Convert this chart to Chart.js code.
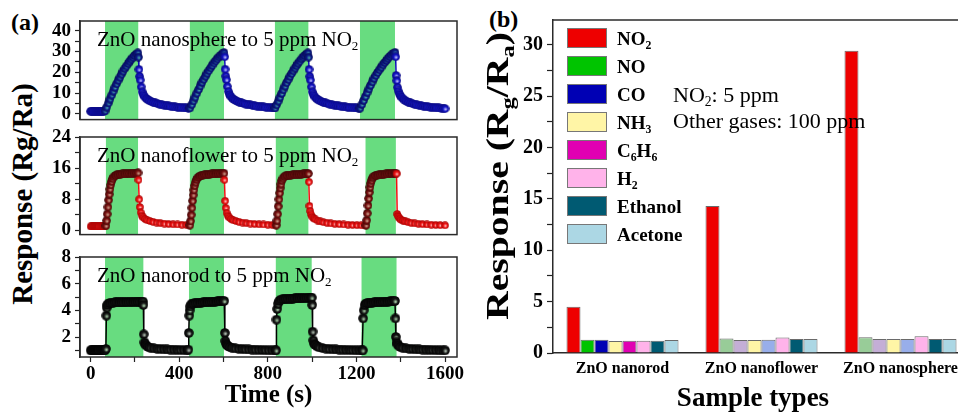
<!DOCTYPE html>
<html><head><meta charset="utf-8">
<script src="https://cdn.jsdelivr.net/npm/chart.js@4.4.1/dist/chart.umd.min.js"></script>
<style>
html,body{margin:0;padding:0;background:#fff;}
body{width:958px;height:412px;overflow:hidden;position:relative;font-family:"Liberation Serif","Times New Roman",serif;}
canvas{position:absolute;}
.lbl{position:absolute;font-weight:bold;color:#000;white-space:nowrap;}
</style></head><body>
<div class="lbl" style="left:11px;top:9px;font-size:24px;">(a)</div>
<div class="lbl" style="left:489px;top:6px;font-size:24px;">(b)</div>
<div class="lbl" style="left:-128px;top:177px;width:300px;height:34px;line-height:34px;text-align:center;font-size:29px;transform:rotate(-90deg);">Response (Rg/Ra)</div>
<canvas id="c1" width="470" height="135" style="left:0;top:0"></canvas>
<canvas id="c2" width="470" height="130" style="left:0;top:120px"></canvas>
<canvas id="c3" width="470" height="172" style="left:0;top:240px"></canvas>
<canvas id="c4" width="500" height="412" style="left:480px;top:0"></canvas>
<script>
// ---------------- DATA: panel (a) ----------------
const timeTicks = [0,200,400,600,800,1000,1200,1400,1600];
const timeLabels = [0,400,800,1200,1600];

// gas-on (NO2 exposure) intervals, s
const sphereOn = [[65,215],[448,602],[832,983],[1216,1374]];
const flowerOn = [[69,214],[448,602],[836,983],[1241,1378]];
const rodOn    = [[65,238],[444,602],[836,998],[1223,1381]];

// ZnO nanosphere
const sphereT = [
0,5,10,15,20,25,30,35,40,45,50,55,60,
65,72,80,87,95,102,109,117,124,132,139,146,154,161,169,176,183,191,198,206,213,
216,218,221,224,228,233,238,244,251,258,266,274,283,292,302,312,322,332,342,352,362,372,382,392,402,412,422,432,442,
448,456,463,471,479,487,494,502,510,518,525,533,541,548,556,564,571,579,587,594,602,
605,607,610,613,617,622,627,633,640,647,655,663,672,681,691,701,711,721,731,741,751,761,771,781,791,801,811,821,828,
832,839,847,854,862,869,877,884,892,899,907,914,922,929,936,944,951,959,966,974,981,
984,986,989,992,996,1001,1006,1012,1019,1026,1034,1042,1051,1060,1070,1080,1090,1100,1110,1120,1130,1140,1150,1160,1170,1180,1190,1200,1210,
1216,1224,1232,1240,1248,1256,1263,1271,1279,1287,1295,1303,1311,1319,1327,1335,1342,1350,1358,1366,1374,
1377,1379,1382,1385,1389,1394,1399,1405,1412,1419,1427,1435,1444,1453,1463,1473,1483,1493,1503,1513,1523,1533,1543,1553,1563,1573,1583,1593,1600];
const sphereY = [
1.2,1.2,1.2,1.2,1.2,1.2,1.2,1.2,1.2,1.2,1.2,1.2,1.2,
1.4,3.2,5.2,7.1,9.0,10.9,12.7,14.5,16.1,17.6,19.1,20.5,21.8,23.0,24.2,25.3,26.3,27.2,28.1,28.8,29.4,
27.3,21.4,18.0,16.3,13.0,10.6,9.2,8.2,7.4,6.8,6.3,5.9,5.5,5.2,4.9,4.6,4.4,4.2,4.0,3.8,3.6,3.5,3.3,3.2,3.1,3.0,2.9,2.8,2.7,
2.8,4.4,6.2,8.0,9.9,11.7,13.4,15.1,16.6,18.1,19.5,20.8,22.1,23.3,24.5,25.5,26.5,27.4,28.2,28.9,29.5,
27.5,21.5,18.2,16.4,13.2,10.8,9.3,8.3,7.5,6.9,6.4,6.0,5.6,5.3,5.0,4.7,4.5,4.3,4.1,3.9,3.7,3.6,3.4,3.3,3.2,3.1,3.0,2.9,2.8,
2.8,4.3,6.1,7.9,9.8,11.6,13.3,15.0,16.5,18.0,19.4,20.7,22.0,23.2,24.3,25.4,26.4,27.3,28.1,28.8,29.4,
27.3,21.4,18.0,16.3,13.0,10.6,9.2,8.2,7.4,6.8,6.3,5.9,5.5,5.2,4.9,4.6,4.4,4.2,4.0,3.8,3.6,3.5,3.3,3.2,3.1,3.0,2.9,2.8,2.7,
2.7,4.5,6.4,8.3,10.2,12.0,13.7,15.4,17.0,18.5,19.9,21.2,22.4,23.6,24.7,25.7,26.7,27.6,28.4,29.1,29.6,
27.5,18.5,16.0,12.8,11.0,9.6,8.6,7.8,7.1,6.5,6.0,5.6,5.2,4.9,4.6,4.3,4.1,3.9,3.7,3.5,3.4,3.2,3.1,3.0,2.9,2.8,2.7,2.6,2.5];

// ZnO nanoflower
const flowerT = [
0,5,10,15,20,25,30,35,40,45,50,55,60,65,
69,72,75,78,81,84,87,90,94,99,105,112,119,127,135,143,151,159,167,175,183,191,199,207,214,
216,219,222,226,231,238,246,256,268,282,298,315,333,352,372,392,412,432,445,
448,451,454,457,460,463,466,469,473,478,484,491,498,506,514,522,530,538,546,554,562,570,578,586,594,602,
604,607,610,614,619,626,634,644,656,670,686,703,721,740,760,780,800,820,834,
838,841,844,847,850,853,856,859,863,868,874,881,888,896,904,912,920,928,936,944,952,960,968,976,983,
985,988,991,995,1000,1007,1015,1025,1037,1051,1067,1084,1102,1122,1142,1162,1182,1202,1222,1238,
1243,1246,1249,1252,1255,1258,1261,1264,1268,1273,1279,1286,1293,1301,1309,1317,1325,1333,1341,1349,1357,1365,1372,1378,
1381,1384,1387,1391,1396,1403,1411,1421,1433,1447,1463,1480,1498,1518,1538,1558,1578,1600];
const flowerY = [
1.0,1.0,1.0,1.0,1.0,1.0,1.0,1.0,1.0,1.0,1.0,1.0,1.0,1.0,
1.2,2.5,4.2,6.0,7.8,9.3,10.6,11.7,12.6,13.3,13.8,14.1,14.3,14.4,14.4,14.5,14.5,14.5,14.6,14.6,14.6,14.7,14.7,14.7,14.8,
13.0,8.0,6.0,4.6,3.8,3.3,2.9,2.6,2.4,2.2,2.0,1.85,1.75,1.65,1.55,1.5,1.45,1.4,1.35,
1.35,2.4,4.0,5.8,7.6,9.1,10.4,11.5,12.4,13.1,13.6,13.9,14.1,14.2,14.3,14.3,14.4,14.4,14.5,14.5,14.5,14.6,14.6,14.6,14.7,14.7,
13.0,7.6,5.8,4.5,3.8,3.3,2.9,2.6,2.4,2.2,2.0,1.85,1.75,1.65,1.55,1.5,1.45,1.4,1.35,
1.35,2.5,4.2,6.2,8.0,9.6,10.9,11.9,12.8,13.4,13.8,14.0,14.1,14.2,14.2,14.3,14.3,14.3,14.4,14.4,14.4,14.5,14.5,14.5,14.6,
12.5,6.3,5.0,4.1,3.5,3.1,2.8,2.5,2.3,2.1,1.95,1.8,1.7,1.6,1.5,1.45,1.4,1.35,1.3,1.3,
1.3,2.6,4.4,6.4,8.2,9.8,11.1,12.1,12.9,13.5,13.9,14.1,14.2,14.3,14.3,14.4,14.4,14.5,14.5,14.6,14.6,14.6,14.7,14.7,
14.6,4.2,3.7,3.3,3.0,2.7,2.5,2.3,2.1,1.95,1.8,1.7,1.6,1.5,1.45,1.4,1.35,1.3];

// ZnO nanorod
const rodT = [
0,5,10,15,20,25,30,35,40,45,50,55,60,65,
69,71,73,76,80,86,94,102,110,118,126,134,142,150,158,166,174,182,190,198,206,214,222,230,236,
238,240,243,247,252,260,270,285,300,315,330,345,360,375,390,405,420,435,
441,443,445,447,450,454,460,468,476,484,492,500,508,516,524,532,540,548,556,564,572,580,588,596,603,
606,608,611,615,620,628,638,653,668,683,698,713,728,743,758,773,788,803,818,833,
837,839,842,846,851,858,866,874,882,890,898,906,914,922,930,938,946,954,962,970,978,986,994,998,
1000,1002,1005,1009,1014,1022,1032,1047,1062,1077,1092,1107,1122,1137,1152,1167,1182,1197,1212,1226,
1228,1230,1233,1237,1242,1248,1256,1264,1272,1280,1288,1296,1304,1312,1320,1328,1336,1344,1352,1360,1368,1374,
1376,1378,1381,1385,1390,1398,1408,1423,1438,1453,1468,1483,1498,1513,1528,1543,1558,1573,1588,1600];
const rodY = [
1.0,1.0,1.0,1.0,1.0,1.0,1.0,1.0,1.0,1.0,1.0,1.0,1.0,1.0,
1.1,3.6,4.2,4.4,4.5,4.55,4.55,4.55,4.6,4.6,4.6,4.6,4.6,4.6,4.62,4.62,4.62,4.63,4.63,4.64,4.64,4.65,4.65,4.65,4.66,
4.4,2.2,1.6,1.45,1.35,1.25,1.2,1.15,1.12,1.1,1.08,1.07,1.06,1.05,1.04,1.03,1.02,1.0,
1.05,2.3,3.6,4.0,4.3,4.45,4.5,4.52,4.55,4.55,4.57,4.58,4.6,4.6,4.61,4.62,4.63,4.64,4.65,4.66,4.67,4.68,4.69,4.7,4.7,
2.3,1.7,1.5,1.4,1.32,1.25,1.2,1.15,1.12,1.1,1.08,1.07,1.06,1.05,1.04,1.03,1.02,1.01,1.0,1.0,
1.0,3.3,4.1,4.5,4.7,4.8,4.82,4.84,4.85,4.86,4.87,4.88,4.88,4.89,4.9,4.9,4.91,4.92,4.92,4.93,4.93,4.94,4.95,4.95,
4.4,2.4,1.75,1.5,1.4,1.3,1.22,1.17,1.13,1.1,1.08,1.07,1.06,1.05,1.04,1.03,1.02,1.01,1.0,1.0,
1.0,3.4,4.0,4.4,4.5,4.55,4.56,4.57,4.58,4.59,4.6,4.6,4.61,4.62,4.63,4.64,4.65,4.66,4.67,4.68,4.69,4.7,
3.4,2.0,1.6,1.45,1.35,1.25,1.2,1.15,1.12,1.1,1.08,1.07,1.06,1.05,1.04,1.03,1.02,1.01,1.0,1.0];

const sphereTicks = [0,5,10,15,20,25,30,35,40], sphereLabels = [0,10,20,30,40];
const flowerTicks = [0,4,8,12,16,20,24],        flowerLabels = [0,8,16,24];
const rodTicks    = [1,2,3,4,5,6,7,8],          rodLabels    = [2,4,6,8];

// ---------------- DATA: panel (b) ----------------
const samples = ['ZnO nanorod','ZnO nanoflower','ZnO nanosphere'];
const gases = ['NO₂','NO','CO','NH₃','C₆H₆','H₂','Ethanol','Acetone'];
const respNO2     = [4.5, 14.3, 29.4];
const respNO      = [1.3, 1.4, 1.53];
const respCO      = [1.3, 1.27, 1.37];
const respNH3     = [1.17, 1.27, 1.37];
const respC6H6    = [1.2, 1.3, 1.37];
const respH2      = [1.2, 1.5, 1.63];
const respEthanol = [1.2, 1.37, 1.37];
const respAcetone = [1.27, 1.37, 1.37];
const gasSeries = [respNO2, respNO, respCO, respNH3, respC6H6, respH2, respEthanol, respAcetone];
const respTicks = [0,2.5,5,7.5,10,12.5,15,17.5,20,22.5,25,27.5,30];
const respLabels = [0,5,10,15,20,25,30];

// ---------------- STYLE ----------------
const FONT = '"Liberation Serif","Times New Roman",serif';
const GREEN = 'rgb(104,220,128)';
const rodColors   = ['#ee0000','#00c400','#0000b4','#fff5a6','#e000b2','#ffb3ea','#005a72','#acd7e4'];
const otherColors = ['#ee0000','#98cc98','#c4aed6','#fff5a6','#98aeea','#ffb3ea','#005a72','#acd7e4'];

function sphere(d, base, hi, edge){
  const c=document.createElement('canvas'); c.width=c.height=d;
  const g=c.getContext('2d'); const r=d/2;
  const gr=g.createRadialGradient(r*1.15,r*1.2,0,r,r,r);
  gr.addColorStop(0,hi); gr.addColorStop(0.5,base); gr.addColorStop(1,edge);
  g.fillStyle=gr; g.beginPath(); g.arc(r,r,r-0.2,0,Math.PI*2); g.fill();
  return c;
}
const SUBS = '₀₁₂₃₄₅₆₇₈₉';
function toParts(s){
  const parts=[]; for(const ch of s){ const k=SUBS.indexOf(ch); const sub=k>=0; const t=sub?String(k):ch;
    if(parts.length && parts[parts.length-1].sub===sub) parts[parts.length-1].t+=t; else parts.push({t,sub}); }
  return parts;
}
function partsWidth(ctx, parts, size, weight){
  let w=0; for(const p of parts){ ctx.font=`${weight} ${p.sub?size*0.62:size}px ${FONT}`; w+=ctx.measureText(p.t).width; } return w;
}
function drawParts(ctx, parts, x, y, size, weight){
  let cx=x; ctx.textAlign='left'; ctx.textBaseline='alphabetic'; ctx.fillStyle='#000';
  for(const p of parts){ ctx.font=`${weight} ${p.sub?size*0.62:size}px ${FONT}`;
    ctx.fillText(p.t, cx, p.sub? y+size*0.2 : y); cx+=ctx.measureText(p.t).width; }
  return cx-x;
}
const inBand=(x,b)=>b.some(([s,e])=>x>=s&&x<=e+1);

function panelA(id, T, Y, bands, o){
  const bandPlugin={id:'bands', beforeDatasetsDraw(chart){
    const {ctx, chartArea:a, scales:{x}}=chart; ctx.save();
    ctx.beginPath(); ctx.rect(a.left,a.top,a.width,a.height); ctx.clip();
    ctx.fillStyle=GREEN;
    bands.forEach(([s,e])=>{const x0=x.getPixelForValue(s),x1=x.getPixelForValue(e); ctx.fillRect(x0,a.top,x1-x0,a.height);});
    ctx.restore(); }};
  const boxPlugin={id:'box', afterDraw(chart){
    const {ctx, chartArea:a}=chart; ctx.save(); ctx.strokeStyle='#2a2a2a'; ctx.lineWidth=1.5;
    ctx.strokeRect(a.left,a.top,a.width,a.height); ctx.restore(); }};
  const titlePlugin={id:'subtitle', afterDatasetsDraw(chart){
    const {ctx, chartArea:a}=chart; ctx.save(); drawParts(ctx, toParts(o.title), a.left+17, a.top+25, 21, 'normal'); ctx.restore(); }};
  const xScale = {type:'linear', min:-48, max:1654, display:!!o.showX,
    afterFit:s=>{ if(o.showX) s.height=55; },
    afterBuildTicks:s=>{s.ticks=timeTicks.map(v=>({value:v}));},
    ticks:{autoSkip:false, maxRotation:0, callback:v=>timeLabels.includes(v)?String(v):'', font:{family:FONT,size:19,weight:'bold'}, color:'#000', padding:1},
    grid:{drawOnChartArea:false, tickLength:5, tickColor:'#222', tickWidth:1.2},
    border:{display:false},
    title:{display:true, text:'Time (s)', font:{family:FONT,size:25,weight:'bold'}, color:'#000', padding:{top:0,bottom:1}}};
  return new Chart(document.getElementById(id), {
    type:'line',
    data:{datasets:[{data:T.map((t,i)=>({x:t,y:Y[i]})), borderColor:o.line, borderWidth:1.5, tension:0,
      pointStyle:c=>(c.raw && inBand(c.raw.x,bands))?o.on:o.off, pointRadius:o.r}]},
    options:{responsive:false, animation:false, events:[],
      layout:{padding:{top:o.padTop,right:13,bottom:o.padBottom,left:0}},
      plugins:{legend:{display:false}, tooltip:{enabled:false}},
      scales:{
        x:xScale,
        y:{min:o.min, max:o.max, afterFit:s=>{s.width=80;},
          afterBuildTicks:s=>{s.ticks=o.ticks.map(v=>({value:v}));},
          ticks:{autoSkip:false, callback:v=>o.labels.includes(v)?String(v):'', font:{family:FONT,size:19,weight:'bold'}, color:'#000', padding:4},
          grid:{drawOnChartArea:false, tickLength:5, tickColor:'#222', tickWidth:1.2},
          border:{color:'#2a2a2a', width:1.5}}
      }},
    plugins:[bandPlugin, boxPlugin, titlePlugin]
  });
}

panelA('c1', sphereT, sphereY, sphereOn, {title:'ZnO nanosphere to 5 ppm NO₂', line:'#0a0ab4',
  on:sphere(9,'#0c1a8c','#4fb8a8','#060a50'), off:sphere(9,'#1414c8','#d8d8ff','#08087a'), r:4.5,
  min:-2.8, max:44.7, ticks:sphereTicks, labels:sphereLabels, padTop:21, padBottom:13, showX:false});
panelA('c2', flowerT, flowerY, flowerOn, {title:'ZnO nanoflower to 5 ppm NO₂', line:'#ee1010',
  on:sphere(9,'#7a1010','#d8b8a0','#3a0606'), off:sphere(8,'#f01414','#ffd8d8','#a00000'), r:4.5,
  min:-1.1, max:24, ticks:flowerTicks, labels:flowerLabels, padTop:17, padBottom:13, showX:false});
panelA('c3', rodT, rodY, rodOn, {title:'ZnO nanorod to 5 ppm NO₂', line:'#000',
  on:sphere(10,'#161616','#b8e4b8','#000'), off:sphere(10,'#161616','#c8d8c8','#000'), r:5,
  min:0.5, max:8, ticks:rodTicks, labels:rodLabels, padTop:17, padBottom:0, showX:true});

// ---------------- panel (b) ----------------
const bPlugin={id:'bextras', afterDraw(chart){
  const {ctx, chartArea:a}=chart; ctx.save();
  ctx.strokeStyle='#2a2a2a'; ctx.lineWidth=1.5; ctx.beginPath(); ctx.moveTo(a.left,a.top); ctx.lineTo(a.right,a.top); ctx.stroke();
  chart.data.datasets.forEach((d,i)=>{
    const cy=a.top+18+i*28;
    ctx.fillStyle=rodColors[i]; ctx.fillRect(a.left+14,cy-10,40,20);
    ctx.strokeStyle='#777'; ctx.lineWidth=1; ctx.strokeRect(a.left+14.5,cy-9.5,39,19);
    drawParts(ctx, toParts(d.label), a.left+64, cy+7, 19, 'bold');
  });
  drawParts(ctx, toParts('NO₂: 5 ppm'), a.left+120, a.top+82, 22, 'normal');
  drawParts(ctx, toParts('Other gases: 100 ppm'), a.left+120, a.top+108, 22, 'normal');
  ctx.font=`bold 27px ${FONT}`; ctx.fillStyle='#000'; ctx.textAlign='center'; ctx.textBaseline='alphabetic';
  ctx.fillText('Sample types', a.left+200, 406);
  const yparts=[{t:'Response (R',sub:false},{t:'g',sub:true},{t:'/R',sub:false},{t:'a',sub:true},{t:')',sub:false}];
  ctx.translate(17,176); ctx.rotate(-Math.PI/2); ctx.scale(1.28,1);
  const w=partsWidth(ctx,yparts,31,'bold');
  drawParts(ctx, yparts, -w/2, 10.5, 31, 'bold');
  ctx.restore();
}};
new Chart(document.getElementById('c4'), {
  type:'bar',
  data:{labels:samples, datasets:gases.map((g,i)=>({label:g, data:gasSeries[i],
    backgroundColor:[rodColors[i],otherColors[i],otherColors[i]], borderColor:'#6a6a6a', borderWidth:1,
    barPercentage:1, categoryPercentage:0.806}))},
  options:{responsive:false, animation:false, events:[],
    layout:{padding:{top:20,right:10,bottom:0,left:0}},
    plugins:{legend:{display:false}, tooltip:{enabled:false}},
    scales:{
      x:{afterFit:s=>{s.height=59;}, ticks:{font:{family:FONT,size:16,weight:'bold'}, color:'#000', padding:6, maxRotation:0, autoSkip:false},
        grid:{display:false, drawTicks:false}, border:{color:'#2a2a2a', width:1.5}},
      y:{min:0, max:32.4, afterFit:s=>{s.width=73;},
        afterBuildTicks:s=>{s.ticks=respTicks.map(v=>({value:v}));},
        ticks:{autoSkip:false, callback:v=>respLabels.includes(v)?String(v):'', font:{family:FONT,size:20,weight:'bold'}, color:'#000', padding:4},
        grid:{drawOnChartArea:false, tickLength:6, tickColor:'#222', tickWidth:1.2},
        border:{color:'#2a2a2a', width:1.5}}
    }},
  plugins:[bPlugin]
});
</script>
</body></html>
